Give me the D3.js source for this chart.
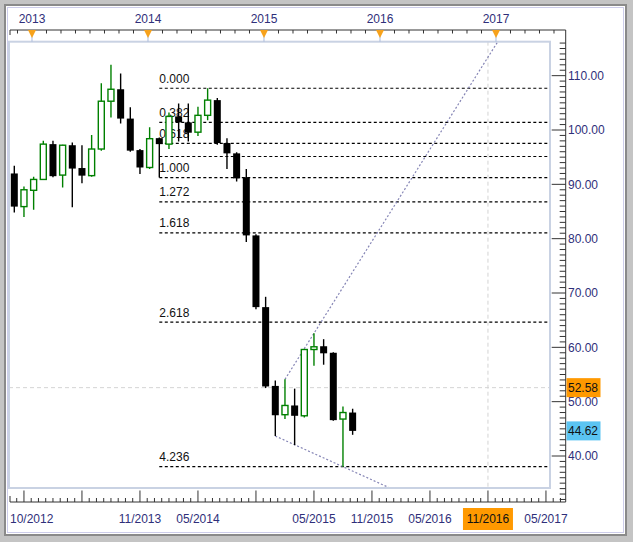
<!DOCTYPE html>
<html><head><meta charset="utf-8">
<script src="https://cdn.jsdelivr.net/npm/d3@7"></script>
<style>
html,body{margin:0;padding:0;background:#fff;}
svg{display:block;font-family:"Liberation Sans",Arial,sans-serif;}
</style></head><body>
<svg id="c" width="633" height="542"></svg>
<script>
// ---------- data (monthly candles) ----------
const months = ["2012-10","2012-11","2012-12","2013-01","2013-02","2013-03","2013-04","2013-05","2013-06","2013-07","2013-08","2013-09","2013-10","2013-11","2013-12","2014-01","2014-02","2014-03","2014-04","2014-05","2014-06","2014-07","2014-08","2014-09","2014-10","2014-11","2014-12","2015-01","2015-02","2015-03","2015-04","2015-05","2015-06","2015-07","2015-08","2015-09"];
const opens  = [92.0,85.9,88.9,90.9,97.4,91.7,97.2,93.0,91.6,96.5,105.3,107.5,102.1,96.3,93.1,98.5,97.4,102.5,101.4,99.6,102.7,105.5,97.6,95.7,91.3,80.6,67.4,52.9,47.6,49.3,47.4,59.6,60.2,59.0,46.8,48.0];
const highs  = [93.4,89.6,91.4,98.0,98.0,97.3,97.7,97.2,99.1,108.6,112.0,110.4,104.2,96.5,100.5,98.6,103.2,104.9,104.9,104.3,107.68,105.9,98.5,95.9,92.8,80.8,69.3,53.9,54.11,52.4,59.7,62.58,61.5,59.1,49.1,48.7];
const lows   = [84.8,84.0,85.3,90.9,91.3,89.4,85.8,90.2,91.4,96.2,102.3,101.2,96.0,91.9,92.8,91.24,96.5,97.9,97.9,98.9,101.8,97.3,92.8,90.5,79.4,67.0,52.5,43.7,46.8,42.0,47.1,56.6,56.8,46.5,38.0,43.9];
const closes = [85.9,89.0,90.9,97.4,91.5,97.2,92.9,91.6,96.5,105.3,107.5,102.1,96.2,93.1,98.4,97.4,102.5,101.4,99.5,102.7,105.5,97.6,95.7,91.1,80.6,67.4,52.8,47.5,49.3,47.4,59.6,60.1,58.9,46.6,48.0,44.62];

// Fibonacci extension
const fibRatios = [0, 0.382, 0.618, 0.764, 1, 1.272, 1.618, 2.618, 4.236];
const fibLabels = ["0.000","0.382","0.618","","1.000","1.272","1.618","2.618","4.236"];
const fibHigh = 107.68, fibLow = 91.24, fibStartMonth = "2014-01";

// trend lines (month, price)
const trendUpperMonths = ["2015-02","2015-05"], trendUpperPrices = [54.11, 62.58];
const trendLowerMonths = ["2015-01","2015-08"], trendLowerPrices = [43.68, 38.03];

// axes
const priceTicks = [40,50,60,70,80,90,100,110];
const yearLabels = [2013,2014,2015,2016,2017];
const bottomLabels = ["10/2012","11/2013","05/2014","05/2015","11/2015","05/2016","11/2016","05/2017"];
const cursorPrice = 52.58, cursorMonth = "2016-11", lastPrice = 44.62;

// ---------- layout ----------
const W = 633, H = 542;
const P = {l: 9, r: 550, t: 41.7, b: 488};
const axisX = 565.7, topAxisY = 30, botAxisY = 502;
const navy = "#2f2f7a";

const mi = s => { const [yy, mm] = s.split("-").map(Number); return (yy - 2012) * 12 + (mm - 1); };
const x = d3.scaleLinear().domain([9, 21]).range([14.3, 130.3]);
const y = d3.scaleLinear().domain([100, 40]).range([130, 456]);

const svg = d3.select("#c");

// frame
svg.append("rect").attr("width", W).attr("height", H).attr("fill", "#c4c4c4");
svg.append("rect").attr("x", 4).attr("y", 4).attr("width", 623).attr("height", 532).attr("fill", "#8a8a8a");
svg.append("rect").attr("x", 6).attr("y", 6).attr("width", 619).attr("height", 528).attr("fill", "#fff");
svg.append("rect").attr("x", 7.5).attr("y", 7.5).attr("width", 616).attr("height", 525).attr("fill", "none").attr("stroke", "#cdcdea").attr("stroke-width", 1);

// clip for plot
svg.append("defs").append("clipPath").attr("id", "pc").append("rect")
  .attr("x", P.l).attr("y", P.t).attr("width", P.r - P.l).attr("height", P.b - P.t);
const g = svg.append("g").attr("clip-path", "url(#pc)");

// crosshair
g.append("line").attr("x1", P.l).attr("x2", P.r).attr("y1", y(cursorPrice)).attr("y2", y(cursorPrice))
  .attr("stroke", "#d4d4d4").attr("stroke-dasharray", "4,3");
g.append("line").attr("x1", x(mi(cursorMonth))).attr("x2", x(mi(cursorMonth))).attr("y1", P.t).attr("y2", P.b)
  .attr("stroke", "#d4d4d4").attr("stroke-dasharray", "4,3");

// fib lines
const fibX0 = x(mi(fibStartMonth));
fibRatios.forEach((r, i) => {
  const p = fibHigh - r * (fibHigh - fibLow);
  g.append("line").attr("x1", fibX0).attr("x2", P.r).attr("y1", y(p)).attr("y2", y(p))
    .attr("stroke", "#000").attr("stroke-width", 1.2).attr("stroke-dasharray", "3,2.5");
  if (fibLabels[i]) g.append("text").attr("x", fibX0).attr("y", y(p) - 5.5)
    .attr("font-size", 12).attr("fill", "#111").text(fibLabels[i]);
});

// trend lines
function trend(ms, ps, edgePrice) {
  const m0 = mi(ms[0]), m1 = mi(ms[1]);
  const slope = (ps[1] - ps[0]) / (m1 - m0);
  const mEnd = m0 + (edgePrice - ps[0]) / slope;
  g.append("line").attr("x1", x(m0)).attr("y1", y(ps[0])).attr("x2", x(mEnd)).attr("y2", y(edgePrice))
    .attr("stroke", "#8585b5").attr("stroke-width", 1.2).attr("stroke-dasharray", "2,2");
}
trend(trendUpperMonths, trendUpperPrices, y.invert(P.t));
trend(trendLowerMonths, trendLowerPrices, y.invert(P.b));

// candles
const green = "#008000";
months.forEach((m, i) => {
  const cx = x(mi(m)), o = opens[i], c = closes[i], up = c >= o;
  g.append("line").attr("x1", cx).attr("x2", cx).attr("y1", y(highs[i])).attr("y2", y(lows[i]))
    .attr("stroke", up ? green : "#000").attr("stroke-width", 1.4);
  const top = y(Math.max(o, c)), h = Math.max(1, Math.abs(y(o) - y(c)));
  if (up) g.append("rect").attr("x", cx - 3).attr("y", top).attr("width", 6).attr("height", h)
    .attr("fill", "#fff").attr("stroke", green).attr("stroke-width", 1.4);
  else g.append("rect").attr("x", cx - 3.5).attr("y", top).attr("width", 7).attr("height", h).attr("fill", "#000");
});

// plot box border
svg.append("rect").attr("x", P.l).attr("y", P.t).attr("width", P.r - P.l).attr("height", P.b - P.t)
  .attr("fill", "none").attr("stroke", "#c9d2e3").attr("stroke-width", 2);

// ---------- top axis ----------
svg.append("line").attr("x1", 10).attr("x2", axisX).attr("y1", topAxisY).attr("y2", topAxisY).attr("stroke", "#333");
svg.append("line").attr("x1", 10).attr("x2", 10).attr("y1", topAxisY).attr("y2", topAxisY + 5).attr("stroke", "#333");
const yearPos = yr => x(mi(yr + "-01") - 1.17);
for (let yr = 2012; yr <= 2017; yr++) {
  for (let k = 0; k < 8; k++) {
    const xx = x(mi(yr + "-01") - 1.17 + k * 1.5);
    if (xx > 11 && xx < axisX - 1) svg.append("line").attr("x1", xx).attr("x2", xx)
      .attr("y1", topAxisY).attr("y2", topAxisY + 3.5).attr("stroke", "#333");
  }
}
yearLabels.forEach(yr => {
  const xx = yearPos(yr);
  svg.append("line").attr("x1", xx).attr("x2", xx).attr("y1", topAxisY + 6).attr("y2", P.t)
    .attr("stroke", "#aabbdd").attr("stroke-width", 1);
  svg.append("path").attr("d", `M${xx - 4},${topAxisY} L${xx + 4},${topAxisY} L${xx},${topAxisY + 8} Z`)
    .attr("fill", "#f7a21b");
  svg.append("text").attr("x", xx).attr("y", 22.5).attr("text-anchor", "middle")
    .attr("font-size", 12).attr("fill", navy).text(yr);
});

// ---------- right axis ----------
svg.append("line").attr("x1", axisX).attr("x2", axisX).attr("y1", topAxisY).attr("y2", botAxisY).attr("stroke", "#333");
for (let v = 32; v <= 116; v++) {
  const yy = y(v);
  if (yy < P.t - 0.5 || yy > botAxisY - 1) continue;
  const major = v % 10 === 0;
  svg.append("line").attr("x1", axisX - (major ? 14 : 6)).attr("x2", axisX).attr("y1", yy).attr("y2", yy).attr("stroke", "#333");
}
priceTicks.forEach(v => {
  svg.append("text").attr("x", 568).attr("y", y(v) + 4.3).attr("font-size", 12).attr("fill", navy).text(v.toFixed(2));
});
function priceBox(v, fill) {
  svg.append("rect").attr("x", 566.5).attr("y", y(v) - 9.5).attr("width", 34).attr("height", 19).attr("fill", fill);
  svg.append("text").attr("x", 568).attr("y", y(v) + 4.3).attr("font-size", 12).attr("fill", "#111").text(v.toFixed(2));
}
priceBox(cursorPrice, "#ff9900");
priceBox(lastPrice, "#5bc4f2");

// ---------- bottom axis ----------
svg.append("line").attr("x1", 10).attr("x2", axisX).attr("y1", botAxisY).attr("y2", botAxisY).attr("stroke", "#333");
svg.append("line").attr("x1", 10).attr("x2", 10).attr("y1", botAxisY - 6).attr("y2", botAxisY).attr("stroke", "#333");
for (let k = -2; k < 80; k++) {
  const m = mi("2012-11") + k * 0.75;
  const xx = x(m);
  if (xx < 12 || xx > axisX - 1) continue;
  const major = k % 8 === 0;
  svg.append("line").attr("x1", xx).attr("x2", xx).attr("y1", botAxisY - (major ? 11.5 : 4)).attr("y2", botAxisY).attr("stroke", "#333");
}
bottomLabels.forEach((lab, i) => {
  const [mm, yy] = lab.split("/");
  const xx = x(mi(yy + "-" + mm));
  const t = svg.append("text").attr("y", 522.5).attr("font-size", 12).attr("fill", navy).text(lab);
  if (i === 0) t.attr("x", 10);
  else t.attr("x", xx).attr("text-anchor", "middle");
  if (lab === cursorMonth.slice(5) + "/" + cursorMonth.slice(0, 4)) {
    svg.insert("rect", "text:last-child").attr("x", xx - 25).attr("y", 508).attr("width", 50).attr("height", 22).attr("fill", "#ff9900");
    t.attr("fill", "#111").raise();
  }
});
</script>
</body></html>
